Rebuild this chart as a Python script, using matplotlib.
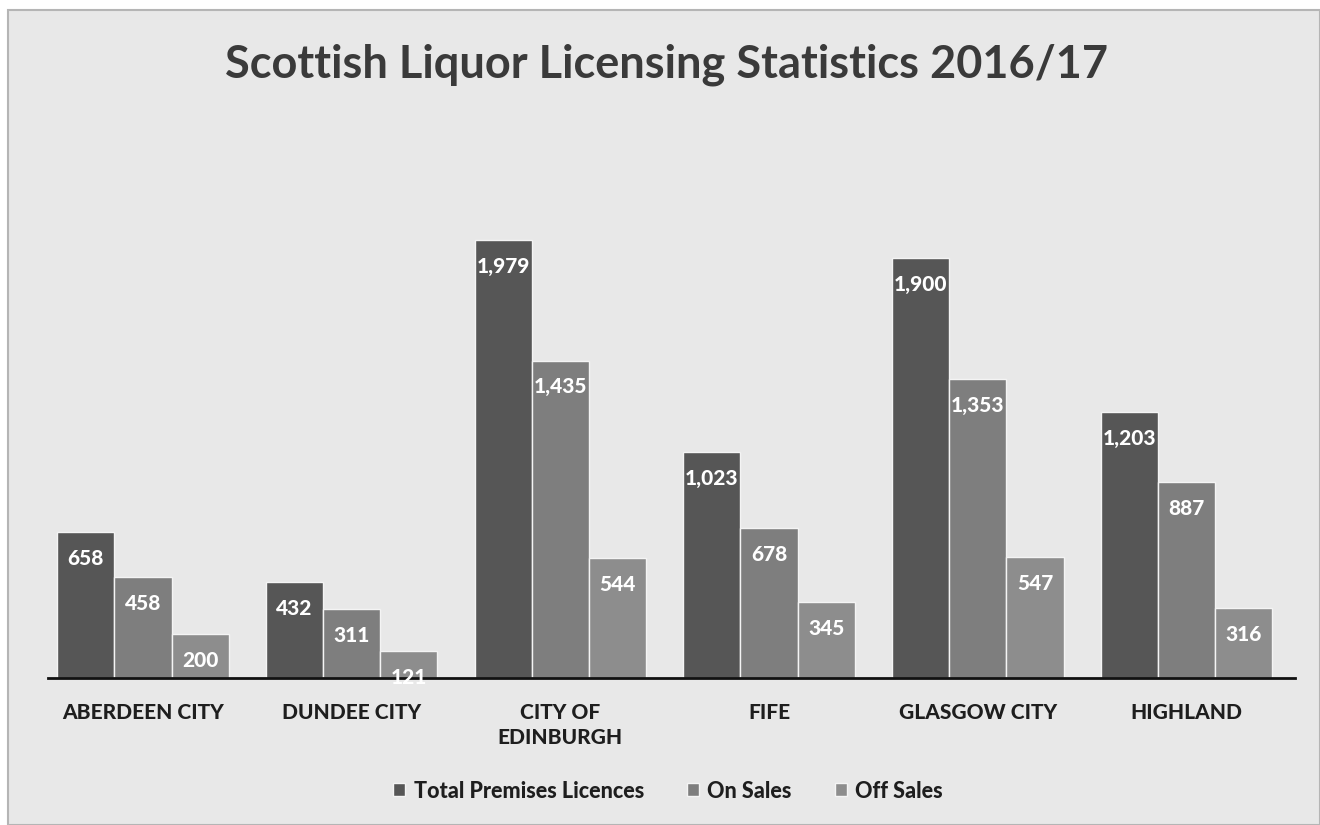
import matplotlib
matplotlib.use("Agg")
import matplotlib.pyplot as plt
import numpy as np
from matplotlib.patches import Rectangle

categories = ["ABERDEEN CITY", "DUNDEE CITY", "CITY OF\nEDINBURGH", "FIFE", "GLASGOW CITY", "HIGHLAND"]
series_names = ["Total Premises Licences", "On Sales", "Off Sales"]
total = [658, 432, 1979, 1023, 1900, 1203]
on_sales = [458, 311, 1435, 678, 1353, 887]
off_sales = [200, 121, 544, 345, 547, 316]
colors = ["#565656", "#7e7e7e", "#8d8d8d"]

plt.rcParams['font.family'] = ['Lato', 'DejaVu Sans']

fig = plt.figure(figsize=(13.2, 8.25), dpi=100)
fig.patch.set_facecolor("white")
panel = Rectangle((8/1320, 0), 1 - 8/1320, 1 - 10/825, transform=fig.transFigure,
                  facecolor="#e8e8e8", edgecolor="#b5b5b5", lw=1.5, zorder=-10)
fig.patches.append(panel)

ax = fig.add_axes([48/1320, 1 - 678/825, (1295 - 48)/1320, (678 - 125)/825])
ax.set_facecolor("none")
ax.set_zorder(1)

x = np.arange(len(categories))
w = 0.274
data = [total, on_sales, off_sales]
for i, (vals, c, name) in enumerate(zip(data, colors, series_names)):
    bars = ax.bar(x + (i - 1) * w, vals, width=w, color=c, edgecolor="#f4f4f4",
                  linewidth=1.0, label=name, zorder=2)
    for b, v in zip(bars, vals):
        ax.annotate(f"{v:,}", (b.get_x() + b.get_width() / 2, v), xytext=(0, -19),
                    textcoords="offset points", ha="center", va="center",
                    color="white", fontsize=15, fontweight="black", zorder=3)

ax.set_xlim(-0.455, 5.52)
ax.set_ylim(0, 2500)
for s in ["top", "right", "left"]:
    ax.spines[s].set_visible(False)
ax.spines["bottom"].set_color("#111111")
ax.spines["bottom"].set_linewidth(2)
ax.set_yticks([])
ax.set_xticks(x)
ax.set_xticklabels(categories, fontsize=15, fontweight="black", color="#1e1e1e",
                   linespacing=1.4)
ax.tick_params(axis="x", length=0, pad=18)

fig.text(0.505, 1 - 65/825, "Scottish Liquor Licensing Statistics 2016/17", ha="center",
         va="center", fontsize=32.5, fontweight="bold", color="#3a3a3a")

leg = fig.legend(loc="center", bbox_to_anchor=(0.506, 1 - 791/825), ncol=3, frameon=False,
                 handlelength=0.55, handleheight=0.55, handletextpad=0.4,
                 columnspacing=2.0, prop={'weight': 'black', 'size': 15.5})
for t in leg.get_texts():
    t.set_color("#1e1e1e")

fig.savefig("out.png", dpi=100)
